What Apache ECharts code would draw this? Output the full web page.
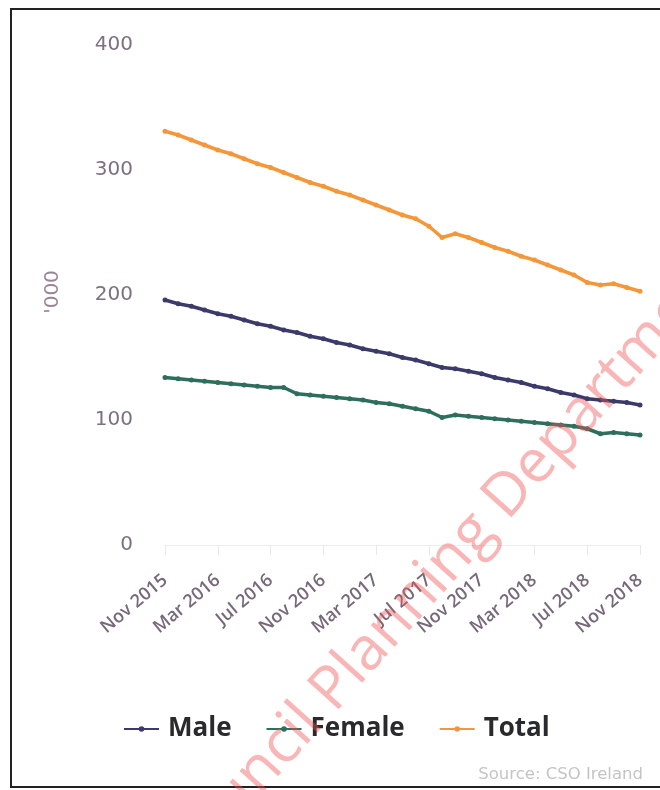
<!DOCTYPE html>
<html>
<head>
<meta charset="utf-8">
<title>Unemployment by sex</title>
<script src="https://cdn.jsdelivr.net/npm/echarts@6/dist/echarts.min.js"></script>
<style>
  html, body { margin: 0; padding: 0; background: #fff; }
  #chart { width: 660px; height: 790px; }
</style>
</head>
<body>
<div id="chart"></div>
<script>
// monthly, Nov 2015 .. Nov 2018
const months = ['Jan', 'Feb', 'Mar', 'Apr', 'May', 'Jun', 'Jul', 'Aug', 'Sep', 'Oct', 'Nov', 'Dec']
const categories = []
for (let i = 0; i < 37; i++) {
  const m = (10 + i) % 12
  const y = 2015 + Math.floor((10 + i) / 12)
  categories.push(months[m] + ' ' + y)
}

const male = [196, 193, 191, 188, 185, 183, 180, 177, 175, 172, 170, 167, 165, 162, 160, 157, 155, 153, 150, 148, 145, 142, 141, 139, 137, 134, 132, 130, 127, 125, 122, 120, 117, 116, 115, 114, 112]
const female = [134, 133, 132, 131, 130, 129, 128, 127, 126, 126, 121, 120, 119, 118, 117, 116, 114, 113, 111, 109, 107, 102, 104, 103, 102, 101, 100, 99, 98, 97, 96, 95, 93, 89, 90, 89, 88]
const total = [331, 328, 324, 320, 316, 313, 309, 305, 302, 298, 294, 290, 287, 283, 280, 276, 272, 268, 264, 261, 255, 246, 249, 246, 242, 238, 235, 231, 228, 224, 220, 216, 210, 208, 209, 206, 203]

const font = '"Open Sans", "DejaVu Sans", sans-serif'
const wide = '"DejaVu Sans", sans-serif'

function lineSeries(name, data, color) {
  return {
    name: name,
    type: 'line',
    data: data,
    symbol: 'circle',
    symbolSize: 5,
    showSymbol: true,
    lineStyle: { width: 3.5, color: color },
    itemStyle: { color: color },
    z: 3
  }
}

const chart = echarts.init(document.getElementById('chart'))

chart.setOption({
  animation: false,
  backgroundColor: '#fff',
  grid: { left: 165, right: 20, top: 45, bottom: 245 },
  legend: {
    top: 711,
    left: 118,
    itemWidth: 35,
    itemHeight: 7,
    itemGap: 34,
    textStyle: { fontFamily: font, fontWeight: 'bold', fontSize: 26, color: '#2a2a2e', padding: [0, 0, 0, 4] },
    data: ['Male', 'Female', 'Total']
  },
  xAxis: {
    type: 'category',
    data: categories,
    boundaryGap: false,
    axisLine: { lineStyle: { color: '#eeeeee' } },
    axisTick: { show: true, interval: 3, length: 10, lineStyle: { color: '#e8e8e8' } },
    axisLabel: {
      interval: 3,
      rotate: 40,
      margin: 33,
      fontFamily: font,
      fontSize: 18,
      fontWeight: 600,
      color: '#77687a'
    }
  },
  yAxis: {
    type: 'value',
    min: 0,
    max: 400,
    interval: 100,
    axisLine: { show: false },
    axisTick: { show: false },
    splitLine: { show: false },
    axisLabel: { margin: 32, fontFamily: wide, fontSize: 20, color: '#7d7080' }
  },
  series: [
    lineSeries('Male', male, '#3b3a6b'),
    lineSeries('Female', female, '#2d6e5c'),
    lineSeries('Total', total, '#f4973a')
  ],
  graphic: [
    {
      type: 'polyline',
      shape: { points: [[660, 9], [11, 9], [11, 787], [660, 787]] },
      style: { stroke: '#222', lineWidth: 2, fill: null },
      silent: true
    },
    {
      type: 'text',
      x: 53,
      y: 292,
      rotation: Math.PI / 2,
      style: {
        text: "'000",
        fontFamily: wide,
        fontSize: 20,
        fill: '#9a8596',
        align: 'center',
        verticalAlign: 'middle'
      }
    },
    {
      type: 'text',
      x: 643,
      y: 775,
      style: {
        text: 'Source: CSO Ireland',
        fontFamily: wide,
        fontSize: 16.5,
        fill: '#c4c4c4',
        align: 'right',
        verticalAlign: 'middle'
      }
    },
    {
      type: 'text',
      x: 448,
      y: 562,
      rotation: 48 * Math.PI / 180,
      z: 10,
      silent: true,
      style: {
        text: 'Council Planning Department',
        fontFamily: font,
        fontSize: 60,
        fill: 'rgba(238,80,80,0.42)',
        align: 'center',
        verticalAlign: 'middle'
      }
    }
  ]
})
</script>
</body>
</html>
